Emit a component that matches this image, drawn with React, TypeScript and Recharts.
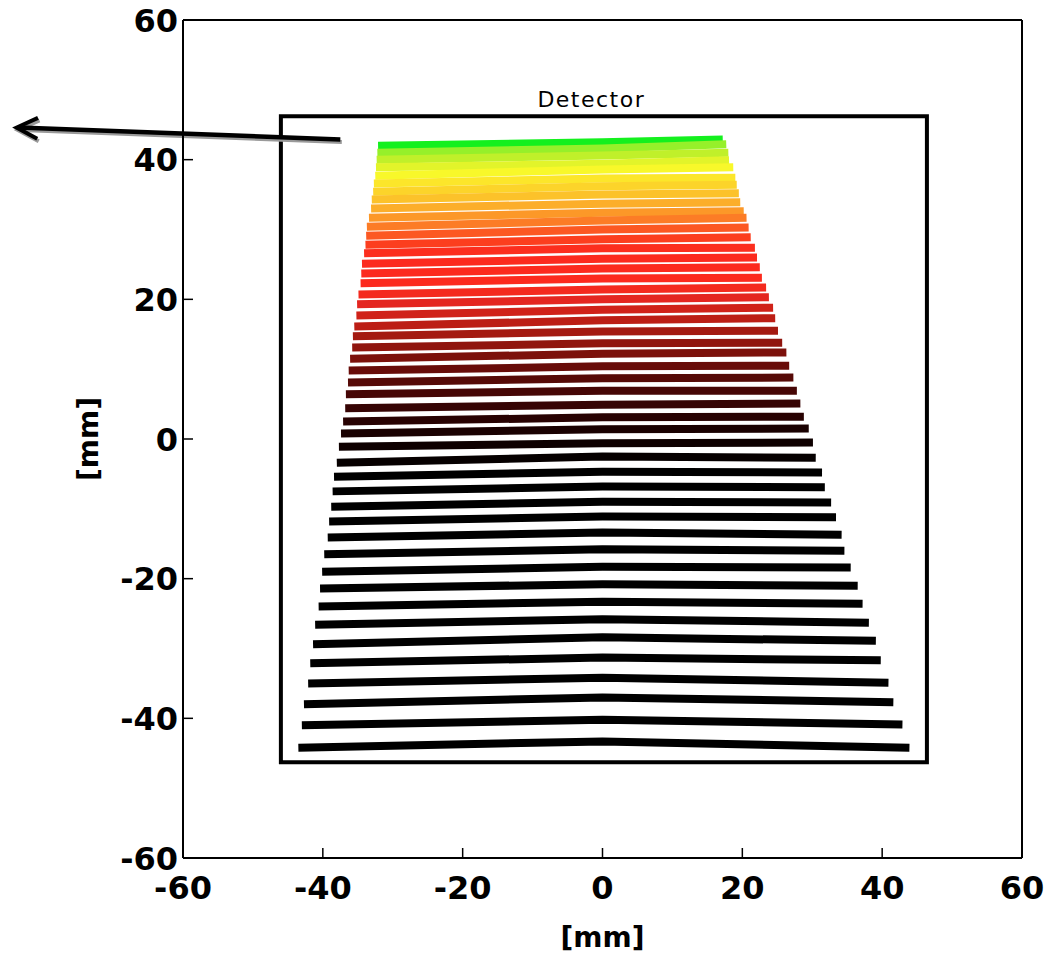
import { LineChart, Line, XAxis, YAxis, ReferenceArea, ReferenceDot, ReferenceLine, Label } from 'recharts'

const AXIS_TICKS = [-60, -40, -20, 0, 20, 40, 60]

// strip rows, top to bottom, all in mm
const ROW_LEFT_X = [
  -32.1, -32.2, -32.3, -32.4, -32.5, -32.7, -32.8, -33.0, -33.1, -33.4, -33.7, -33.8, -33.9, -34.1, -34.4, -34.5,
  -34.6, -34.9, -35.1, -35.2, -35.5, -35.7, -35.8, -36.1, -36.3, -36.4, -36.7, -36.8, -37.1, -37.4, -37.7, -38.0,
  -38.4, -38.6, -38.8, -39.1, -39.3, -39.8, -40.1, -40.4, -40.6, -41.1, -41.4, -41.8, -42.1, -42.7, -43.0, -43.5,
]
const ROW_RIGHT_X = [
  17.2, 17.7, 18.0, 18.1, 18.7, 19.0, 19.2, 19.5, 19.7, 20.2, 20.6, 20.9, 21.2, 21.8, 22.1, 22.5,
  22.8, 23.4, 23.8, 24.4, 24.7, 25.1, 25.7, 26.3, 26.7, 27.3, 27.8, 28.3, 28.8, 29.5, 30.1, 30.5,
  31.4, 31.8, 32.7, 33.4, 34.2, 34.6, 35.5, 36.5, 37.2, 38.1, 39.1, 39.8, 40.9, 41.6, 42.9, 43.9,
]
const ROW_LEFT_Y = [
  42.0, 41.0, 40.0, 38.9, 37.7, 36.6, 35.4, 34.3, 33.0, 31.7, 30.4, 29.1, 27.8, 26.6, 25.1, 23.7,
  22.3, 20.7, 19.3, 17.7, 16.1, 14.7, 13.1, 11.5, 9.8, 8.1, 6.4, 4.4, 2.5, 0.8, -1.1, -3.4,
  -5.4, -7.5, -9.7, -11.8, -14.1, -16.5, -19.0, -21.4, -24.0, -26.6, -29.4, -32.1, -35.0, -38.0, -41.0, -44.2,
]
// height of each row where it crosses x = 0
const ROW_MID_X = 0
const ROW_MID_Y = [
  42.5, 41.6, 40.6, 39.4, 38.6, 37.3, 36.2, 35.0, 33.7, 32.4, 31.3, 30.0, 28.6, 27.3, 25.8, 24.4,
  23.0, 21.4, 20.0, 18.5, 17.0, 15.4, 13.7, 12.2, 10.4, 8.7, 6.9, 4.9, 3.1, 1.4, -0.6, -2.5,
  -4.7, -6.8, -9.0, -11.1, -13.4, -15.8, -18.3, -20.8, -23.3, -25.8, -28.4, -31.3, -34.2, -37.0, -40.2, -43.3,
]
const ROW_RIGHT_Y = [
  42.9, 42.2, 41.0, 39.9, 38.9, 37.4, 36.4, 35.2, 33.9, 32.6, 31.7, 30.3, 28.9, 27.4, 26.0, 24.6,
  23.1, 21.7, 20.3, 18.8, 17.3, 15.5, 13.8, 12.4, 10.5, 8.8, 6.9, 5.1, 3.2, 1.5, -0.5, -2.7,
  -4.8, -6.9, -9.1, -11.2, -13.7, -16.0, -18.4, -21.0, -23.6, -26.3, -28.9, -31.7, -34.9, -37.7, -40.9, -44.2,
]

const ROW_COLORS = [
  '#14f01e', '#96f02a', '#c0f02a', '#e2f42a', '#f8f82a', '#fce62a', '#fcd42a', '#fcc22a',
  '#fcae2a', '#fc9828', '#fc7c26', '#fc5822', '#fc3e1e', '#fc2e1e', '#fc2a1e', '#fc2a1e',
  '#fc2a1e', '#f42a1e', '#e42620', '#d02219', '#bc1e15', '#a41a11', '#90150e', '#7c110b',
  '#680c09', '#560a07', '#460605', '#360404', '#280202', '#1a0101', '#0e0000', '#060000',
]

const DETECTOR = { x1: -46, x2: 46.4, y1: -46.3, y2: 46.2 }
const DETECTOR_LABEL = { x: -1.6, y: 46.2 }
const ARROW = [
  { x: -37.5, y: 42.9 },
  { x: -83.8, y: 44.6 },
]

const rows = ROW_LEFT_X.map((xl, i) => [
  { x: xl, y: ROW_LEFT_Y[i] },
  { x: ROW_MID_X, y: ROW_MID_Y[i] },
  { x: ROW_RIGHT_X[i], y: ROW_RIGHT_Y[i] },
])

const tickFont = { fill: '#000', fontSize: 32, fontWeight: 'bold', fontFamily: 'DejaVu Sans' }
const titleFont = { fill: '#000', fontSize: 28, fontWeight: 'bold', fontFamily: 'DejaVu Sans' }
const TICK_LEN = 10

// ticks point into the plot, labels sit outside
function BottomTick(props: any) {
  const { x, y, payload } = props
  const axisY = y - 18
  return (
    <g>
      <line x1={x} x2={x} y1={axisY} y2={axisY - TICK_LEN} stroke="#000" strokeWidth={1.5} />
      <text x={x} y={y} dy="0.71em" textAnchor="middle" style={tickFont}>
        {payload.value}
      </text>
    </g>
  )
}

function LeftTick(props: any) {
  const { x, y, payload } = props
  const axisX = x + 5
  return (
    <g>
      <line x1={axisX} x2={axisX + TICK_LEN} y1={y} y2={y} stroke="#000" strokeWidth={1.5} />
      <text x={x} y={y} dy="0.36em" textAnchor="end" style={tickFont}>
        {payload.value}
      </text>
    </g>
  )
}

function TopTick(props: any) {
  const { x, y } = props
  return <line x1={x} x2={x} y1={y} y2={y + TICK_LEN} stroke="#000" strokeWidth={1.5} />
}

function RightTick(props: any) {
  const { x, y } = props
  return <line x1={x} x2={x - TICK_LEN} y1={y} y2={y} stroke="#000" strokeWidth={1.5} />
}

function ArrowShape(props: any) {
  const { x1, y1, x2, y2 } = props
  const dx = x2 - x1
  const dy = y2 - y1
  const len = Math.hypot(dx, dy) || 1
  const ux = dx / len
  const uy = dy / len
  const head = (ox: number, oy: number) => {
    const tx = x2 + ox
    const ty = y2 + oy
    const bx = tx - ux * 21
    const by = ty - uy * 21
    return `${bx - uy * 10.5},${by + ux * 10.5} ${tx},${ty} ${bx + uy * 10.5},${by - ux * 10.5}`
  }
  return (
    <g>
      <line x1={x1 + 1.5} y1={y1 + 2.5} x2={x2 + 4} y2={y2 + 2.5} stroke="#9a9a9a" strokeWidth={4} />
      <polyline points={head(1.5, 2.5)} fill="none" stroke="#9a9a9a" strokeWidth={4} />
      <line x1={x1} y1={y1} x2={x2 + 2} y2={y2} stroke="#000" strokeWidth={4.5} />
      <polyline points={head(0, 0)} fill="none" stroke="#000" strokeWidth={4} />
    </g>
  )
}

function XTitle(props: any) {
  const { viewBox } = props
  const cx = viewBox.x + viewBox.width / 2
  const cy = viewBox.y + 79
  return (
    <text x={cx} y={cy} textAnchor="middle" dominantBaseline="central" style={titleFont}>
      [mm]
    </text>
  )
}

function YTitle(props: any) {
  const { viewBox } = props
  const cx = viewBox.x + 88
  const cy = viewBox.y + viewBox.height / 2
  return (
    <text
      x={cx}
      y={cy}
      transform={`rotate(-90 ${cx} ${cy})`}
      textAnchor="middle"
      dominantBaseline="central"
      style={titleFont}
    >
      [mm]
    </text>
  )
}

export default function App() {
  return (
    <div style={{ width: 1061, height: 955, margin: '-8px 0 0 -8px', background: '#fff' }}>
      <LineChart width={1061} height={955} margin={{ top: 19, right: 38, bottom: 0, left: 0 }}>
        <XAxis
          xAxisId="b"
          dataKey="x"
          type="number"
          domain={[-60, 60]}
          ticks={AXIS_TICKS}
          allowDataOverflow
          height={97}
          tickSize={0}
          tickMargin={18}
          tickLine={false}
          axisLine={{ stroke: '#000', strokeWidth: 2 }}
          tick={<BottomTick />}
        >
          <Label content={<XTitle />} />
        </XAxis>
        <XAxis
          xAxisId="t"
          dataKey="x"
          type="number"
          domain={[-60, 60]}
          ticks={AXIS_TICKS}
          orientation="top"
          height={1}
          tickSize={0}
          tickMargin={0}
          tickLine={false}
          axisLine={{ stroke: '#000', strokeWidth: 2 }}
          tick={<TopTick />}
        />
        <YAxis
          yAxisId="l"
          type="number"
          domain={[-60, 60]}
          ticks={AXIS_TICKS}
          allowDataOverflow
          width={183}
          tickSize={0}
          tickMargin={5}
          tickLine={false}
          axisLine={{ stroke: '#000', strokeWidth: 2 }}
          tick={<LeftTick />}
        >
          <Label content={<YTitle />} />
        </YAxis>
        <YAxis
          yAxisId="r"
          type="number"
          domain={[-60, 60]}
          ticks={AXIS_TICKS}
          orientation="right"
          width={1}
          tickSize={0}
          tickMargin={0}
          tickLine={false}
          axisLine={{ stroke: '#000', strokeWidth: 2 }}
          tick={<RightTick />}
        />

        <ReferenceArea
          xAxisId="b"
          yAxisId="l"
          x1={DETECTOR.x1}
          x2={DETECTOR.x2}
          y1={DETECTOR.y1}
          y2={DETECTOR.y2}
          fill="none"
          fillOpacity={0}
          stroke="#000"
          strokeWidth={4}
          ifOverflow="visible"
        />
        <ReferenceDot
          xAxisId="b"
          yAxisId="l"
          x={DETECTOR_LABEL.x}
          y={DETECTOR_LABEL.y}
          r={0}
          fill="none"
          stroke="none"
          ifOverflow="visible"
          label={{
            value: 'Detector',
            position: 'top',
            offset: 9,
            fill: '#000',
            fontSize: 22,
            fontFamily: 'DejaVu Sans',
            letterSpacing: 1.5,
          }}
        />

        {rows.map((row, i) => (
          <Line
            key={i}
            xAxisId="b"
            yAxisId="l"
            data={row}
            dataKey="y"
            type="linear"
            stroke={ROW_COLORS[i] ?? '#000'}
            strokeWidth={8}
            dot={false}
            activeDot={false}
            isAnimationActive={false}
          />
        ))}

        <ReferenceLine
          xAxisId="b"
          yAxisId="l"
          segment={ARROW}
          ifOverflow="visible"
          shape={<ArrowShape />}
        />
      </LineChart>
    </div>
  )
}
